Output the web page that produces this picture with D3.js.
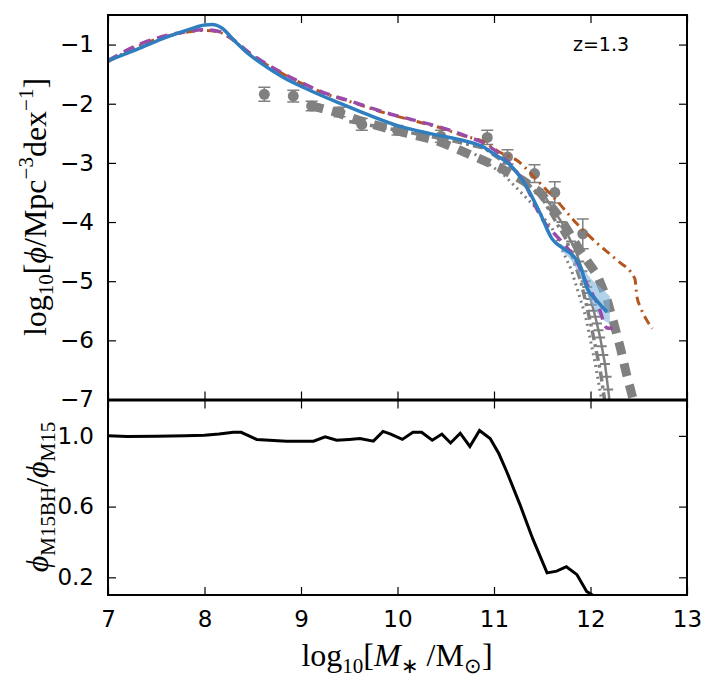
<!DOCTYPE html>
<html><head><meta charset="utf-8">
<script src="https://cdn.jsdelivr.net/npm/d3@7"></script>
<style>body{margin:0;background:#fff}svg{display:block}</style>
</head><body>
<script>
// ---- data ----
const xTicks = [7, 8, 9, 10, 11, 12, 13];
const yTicksTop = [-1, -2, -3, -4, -5, -6, -7];
const yTicksBot = [1.0, 0.6, 0.2];
const redshiftLabel = "z=1.3";

const modelBH = [[7.0,-1.27],[7.3,-1.08],[7.6,-0.88],[7.85,-0.74],[8.0,-0.67],[8.08,-0.66],[8.18,-0.72],[8.3,-0.92],[8.45,-1.15],[8.6,-1.33],[8.8,-1.54],[9.1,-1.78],[9.4,-1.99],[9.7,-2.19],[10.0,-2.37],[10.35,-2.51],[10.7,-2.63],[10.9,-2.74],[11.0,-2.85],[11.17,-3.04],[11.34,-3.41],[11.48,-3.86],[11.6,-4.28],[11.72,-4.45],[11.82,-4.57],[11.9,-4.77],[11.96,-5.1],[12.05,-5.3],[12.17,-5.52]];
const modelBHbandX = [11.7,11.8,11.9,12.0,12.1,12.2];
const modelBHbandLo = [-4.5,-4.65,-4.95,-5.35,-5.6,-5.72];
const modelBHbandHi = [-4.38,-4.5,-4.72,-4.95,-5.1,-5.25];
const modelNoBH = [[7.0,-1.27],[7.35,-0.98],[7.78,-0.79],[8.0,-0.75],[8.15,-0.78],[8.25,-0.86],[8.45,-1.12],[8.75,-1.43],[9.0,-1.64],[9.25,-1.82],[9.5,-1.95],[9.9,-2.16],[10.2,-2.29],[10.45,-2.40],[10.7,-2.54],[10.93,-2.70],[11.13,-2.96],[11.3,-3.30],[11.5,-3.95],[11.7,-4.33],[11.86,-4.67],[11.96,-5.04],[12.08,-5.41],[12.17,-5.79],[12.23,-5.80]];
const modelAlt = [[7.0,-1.29],[7.35,-1.0],[7.78,-0.8],[8.0,-0.76],[8.15,-0.79],[8.25,-0.87],[8.45,-1.13],[8.75,-1.44],[9.0,-1.65],[9.25,-1.83],[9.5,-1.96],[9.9,-2.17],[10.2,-2.3],[10.45,-2.41],[10.7,-2.55],[10.86,-2.62],[11.06,-2.82],[11.24,-2.96],[11.45,-3.30],[11.65,-3.64],[11.86,-4.03],[12.07,-4.36],[12.27,-4.64],[12.46,-4.96],[12.48,-5.25],[12.52,-5.45],[12.58,-5.65],[12.64,-5.8]];
const obsThick = [[9.1,-2.03],[9.35,-2.14],[9.6,-2.28],[9.9,-2.42],[10.1,-2.5],[10.4,-2.62],[10.6,-2.75],[10.82,-2.91],[11.06,-3.08],[11.3,-3.3],[11.48,-3.5],[11.68,-3.92],[11.89,-4.48],[12.07,-4.9],[12.17,-5.3],[12.24,-5.7],[12.31,-6.13],[12.37,-6.55],[12.45,-7.05]];
const obsDashDot = [[9.5,-2.3],[10.0,-2.45],[10.5,-2.6],[10.9,-2.75],[11.2,-3.1],[11.5,-3.6],[11.75,-4.3],[11.9,-5.0],[12.0,-5.7],[12.1,-6.5],[12.15,-7.05]];
const obsDotted = [[10.8,-2.85],[11.1,-3.2],[11.4,-3.7],[11.6,-4.1],[11.8,-4.8],[11.95,-5.6],[12.05,-6.4],[12.12,-7.05]];
const obsErr = [[11.5,-3.5],[11.7,-4.0],[11.85,-4.5],[11.95,-5.0],[12.0,-5.3],[12.05,-5.6],[12.1,-5.95],[12.15,-6.4],[12.2,-7.05]];
const pointsX = [8.62,8.92,9.11,9.4,9.63,10.0,10.45,10.93,11.14,11.42,11.63,11.92];
const pointsY = [-1.84,-1.87,-2.04,-2.14,-2.35,-2.45,-2.55,-2.57,-2.9,-3.18,-3.5,-4.2];
const pointsErr = [0.12,0.1,0.08,0.08,0.1,0.08,0.1,0.12,0.12,0.15,0.18,0.25];
const ratio = [[7.0,1.0],[7.2,0.997],[7.5,0.998],[7.8,1.0],[8.0,1.003],[8.15,1.01],[8.3,1.02],[8.38,1.02],[8.54,0.98],[8.85,0.97],[9.13,0.97],[9.25,0.995],[9.37,0.975],[9.5,0.98],[9.61,0.985],[9.75,0.97],[9.85,1.025],[9.93,1.01],[10.05,0.98],[10.16,1.02],[10.25,1.02],[10.36,0.975],[10.46,1.01],[10.55,0.96],[10.65,1.015],[10.75,0.94],[10.85,1.03],[10.96,0.985],[11.05,0.9],[11.13,0.80],[11.27,0.61],[11.4,0.42],[11.55,0.225],[11.65,0.235],[11.75,0.26],[11.86,0.215],[11.96,0.12],[12.05,0.09]];

// ---- layout ----
const W = 720, H = 688;
const L = 108, R = 687, T1 = 15, B1 = 399.5, T2 = 400.5, B2 = 595;
const x = d3.scaleLinear().domain([7, 13]).range([L, R]);
const y1 = d3.scaleLinear().domain([-7, -0.5]).range([B1, T1]);
const y2 = d3.scaleLinear().domain([0.1, 1.2]).range([B2, T2]);

const svg = d3.select("body").append("svg").attr("width", W).attr("height", H);
const defs = svg.append("defs");
defs.append("clipPath").attr("id","c1").append("rect").attr("x",L).attr("y",T1).attr("width",R-L).attr("height",B1-T1);
defs.append("clipPath").attr("id","c2").append("rect").attr("x",L).attr("y",T2).attr("width",R-L).attr("height",B2-T2);

const gray = "#808080";
const g1 = svg.append("g").attr("clip-path","url(#c1)");
const line1 = d3.line().x(d=>x(d[0])).y(d=>y1(d[1]));
const lineC = d3.line().curve(d3.curveMonotoneX).x(d=>x(d[0])).y(d=>y1(d[1]));

// observational gray curves
g1.append("path").attr("d", line1(obsDotted)).attr("fill","none").attr("stroke",gray).attr("stroke-width",3).attr("stroke-dasharray","2,4");
g1.append("path").attr("d", line1(obsDashDot)).attr("fill","none").attr("stroke",gray).attr("stroke-width",3.5).attr("stroke-dasharray","10,4,3,4");
g1.append("path").attr("d", line1(obsErr)).attr("fill","none").attr("stroke",gray).attr("stroke-width",2.5);
const errTicks = d3.range(0, obsErr.length-1).flatMap(i => [0,0.33,0.66].map(f => [obsErr[i][0]+(obsErr[i+1][0]-obsErr[i][0])*f, obsErr[i][1]+(obsErr[i+1][1]-obsErr[i][1])*f]));
g1.selectAll("line.et").data(errTicks).enter().append("line").attr("class","et")
  .attr("x1",d=>x(d[0])-5).attr("x2",d=>x(d[0])+5).attr("y1",d=>y1(d[1])).attr("y2",d=>y1(d[1]))
  .attr("stroke",gray).attr("stroke-width",2);
g1.append("path").attr("d", line1(obsThick)).attr("fill","none").attr("stroke",gray).attr("stroke-width",9).attr("stroke-dasharray","13,9");

// data points with error bars
const pts = pointsX.map((v,i)=>({x:v,y:pointsY[i],e:pointsErr[i]}));
const pg = g1.selectAll("g.pt").data(pts).enter().append("g");
pg.append("line").attr("x1",d=>x(d.x)).attr("x2",d=>x(d.x)).attr("y1",d=>y1(d.y+d.e)).attr("y2",d=>y1(d.y-d.e)).attr("stroke",gray).attr("stroke-width",1.5);
pg.append("line").attr("x1",d=>x(d.x)-6).attr("x2",d=>x(d.x)+6).attr("y1",d=>y1(d.y+d.e)).attr("y2",d=>y1(d.y+d.e)).attr("stroke",gray).attr("stroke-width",1.5);
pg.append("line").attr("x1",d=>x(d.x)-6).attr("x2",d=>x(d.x)+6).attr("y1",d=>y1(d.y-d.e)).attr("y2",d=>y1(d.y-d.e)).attr("stroke",gray).attr("stroke-width",1.5);
pg.append("circle").attr("cx",d=>x(d.x)).attr("cy",d=>y1(d.y)).attr("r",5.5).attr("fill",gray);

// models
const band = modelBHbandX.map((v,i)=>[v,modelBHbandLo[i],modelBHbandHi[i]]);
g1.append("path").attr("d", d3.area().curve(d3.curveMonotoneX).x(d=>x(d[0])).y0(d=>y1(d[1])).y1(d=>y1(d[2]))(band))
  .attr("fill","#7fb2dd").attr("opacity",0.6);
g1.append("path").attr("d", lineC(modelAlt)).attr("fill","none").attr("stroke","#b4561e").attr("stroke-width",3).attr("stroke-dasharray","9,5,2,5");
g1.append("path").attr("d", lineC(modelNoBH)).attr("fill","none").attr("stroke","#9b4aa8").attr("stroke-width",3.5).attr("stroke-dasharray","11,7");
g1.append("path").attr("d", lineC(modelBH)).attr("fill","none").attr("stroke","#2f7fc0").attr("stroke-width",3.5);

// ratio panel
const g2 = svg.append("g").attr("clip-path","url(#c2)");
g2.append("path").attr("d", d3.line().x(d=>x(d[0])).y(d=>y2(d[1]))(ratio)).attr("fill","none").attr("stroke","#000").attr("stroke-width",3);

// axes & frames
const tl = 8, fs = 23;
function frame(top, bottom, ys, yTicks, fmt) {
  svg.append("rect").attr("x",L).attr("y",top).attr("width",R-L).attr("height",bottom-top).attr("fill","none").attr("stroke","#000").attr("stroke-width",2);
  const gb = svg.append("g").attr("transform",`translate(0,${bottom})`).call(d3.axisBottom(x).tickValues(xTicks).tickSizeInner(-tl).tickSizeOuter(0).tickFormat(""));
  const gt = svg.append("g").attr("transform",`translate(0,${top})`).call(d3.axisTop(x).tickValues(xTicks).tickSizeInner(-tl).tickSizeOuter(0).tickFormat(""));
  const gl = svg.append("g").attr("transform",`translate(${L},0)`).call(d3.axisLeft(ys).tickValues(yTicks).tickSizeInner(-tl).tickSizeOuter(0).tickPadding(14).tickFormat(fmt));
  const gr = svg.append("g").attr("transform",`translate(${R},0)`).call(d3.axisRight(ys).tickValues(yTicks).tickSizeInner(-tl).tickSizeOuter(0).tickFormat(""));
  [gb,gt,gl,gr].forEach(g=>{g.select(".domain").remove(); g.selectAll("line").attr("stroke","#000").attr("stroke-width",1.2);});
  gl.selectAll("text").attr("font-family","DejaVu Sans").attr("font-size",fs).attr("fill","#000");
}
frame(T1, B1, y1, yTicksTop, d=>d3.format("d")(d).replace("-","\u2212"));
frame(T2, B2, y2, yTicksBot, d3.format(".1f"));
const gx = svg.append("g").attr("transform",`translate(0,${B2})`).call(d3.axisBottom(x).tickValues(xTicks).tickSize(0).tickPadding(16).tickFormat(d3.format("d")));
gx.select(".domain").remove();
gx.selectAll("text").attr("font-family","DejaVu Sans").attr("font-size",fs).attr("fill","#000");

// labels
svg.append("text").attr("x",601).attr("y",51).attr("text-anchor","middle").attr("font-family","DejaVu Sans").attr("font-size",19).text(redshiftLabel);

const serif = "Liberation Serif";
const xl = svg.append("text").attr("x",397).attr("y",666).attr("text-anchor","middle").attr("font-family",serif).attr("font-size",32);
xl.append("tspan").text("log");
xl.append("tspan").attr("font-size",21).attr("dy",7).text("10");
xl.append("tspan").attr("dy",-7).text("[");
xl.append("tspan").attr("font-style","italic").text("M");
xl.append("tspan").attr("font-size",21).attr("dy",7).text("\u2217");
xl.append("tspan").attr("dy",-7).text(" /M");
xl.append("tspan").attr("font-size",21).attr("dy",7).text("\u2299");
xl.append("tspan").attr("dy",-7).text("]");

const yl = svg.append("text").attr("transform","translate(46,207) rotate(-90)").attr("text-anchor","middle").attr("font-family",serif).attr("font-size",32);
yl.append("tspan").text("log");
yl.append("tspan").attr("font-size",21).attr("dy",7).text("10");
yl.append("tspan").attr("dy",-7).text("[");
yl.append("tspan").attr("font-style","italic").text("\u03d5");
yl.append("tspan").text("/Mpc");
yl.append("tspan").attr("font-size",21).attr("dy",-13).text("\u22123");
yl.append("tspan").attr("dy",13).text("dex");
yl.append("tspan").attr("font-size",21).attr("dy",-13).text("\u22121");
yl.append("tspan").attr("dy",13).text("]");

const yl2 = svg.append("text").attr("transform","translate(48,497) rotate(-90)").attr("text-anchor","middle").attr("font-family",serif).attr("font-size",32);
yl2.append("tspan").attr("font-style","italic").text("\u03d5");
yl2.append("tspan").attr("font-size",21).attr("dy",7).text("M15BH");
yl2.append("tspan").attr("dy",-7).text("/");
yl2.append("tspan").attr("font-style","italic").text("\u03d5");
yl2.append("tspan").attr("font-size",21).attr("dy",7).text("M15");
</script>
</body></html>
